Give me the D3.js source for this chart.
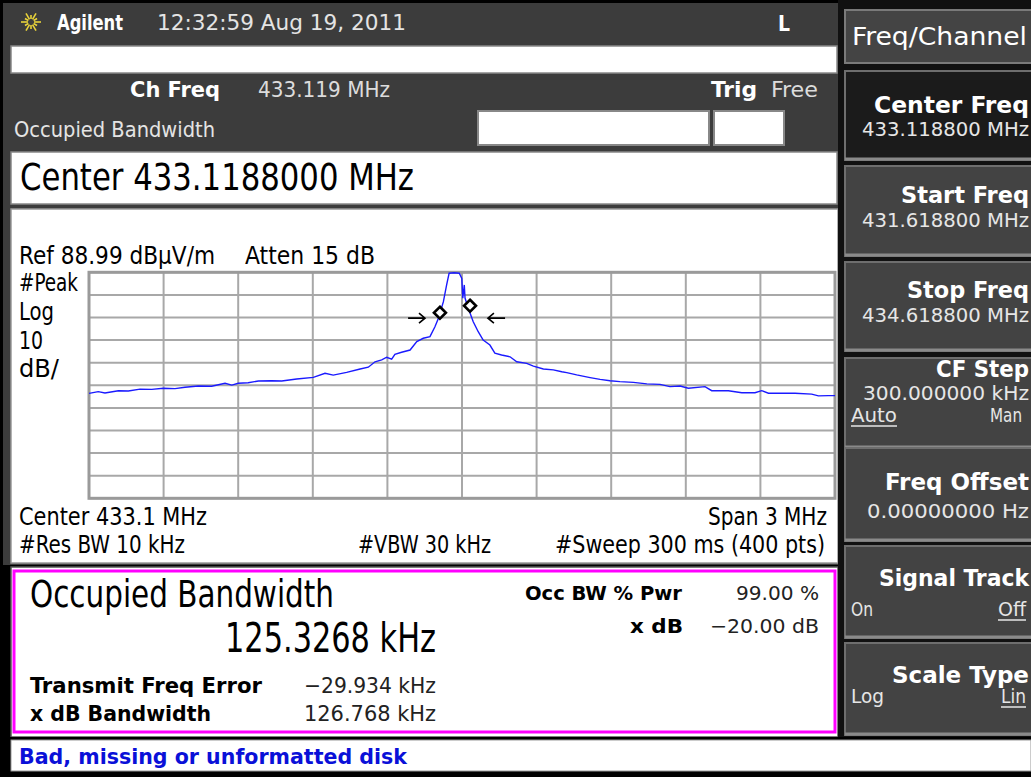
<!DOCTYPE html>
<html><head><meta charset="utf-8">
<script src="https://cdn.jsdelivr.net/npm/d3@7"></script>
<style>
html,body{margin:0;padding:0;background:#000;}
svg{display:block;}
text{font-family:'DejaVu Sans Condensed','DejaVu Sans','Liberation Sans Narrow',sans-serif;font-stretch:condensed;}
</style></head>
<body>
<svg id="c" width="1031" height="777"></svg>
<script>
// ---- data (frequency in MHz, level in dBµV/m) ----
const traceFreqMHz = [431.619,431.656,431.683,431.737,431.777,431.824,431.871,431.918,431.965,432.005,
  432.058,432.112,432.166,432.193,432.219,432.259,432.300,432.354,432.394,432.454,
  432.521,432.568,432.601,432.655,432.709,432.742,432.769,432.796,432.816,432.836,
  432.849,432.876,432.910,432.937,432.963,432.990,433.010,433.024,433.044,433.057,
  433.067,433.087,433.108,433.118,433.122,433.128,433.131,433.144,433.164,433.184,
  433.204,433.231,433.251,433.278,433.312,433.339,433.379,433.406,433.446,433.486,
  433.520,433.540,433.580,433.634,433.674,433.714,433.754,433.808,433.862,433.915,
  433.955,433.996,434.029,434.096,434.123,434.190,434.244,434.297,434.324,434.351,
  434.418,434.458,434.525,434.552,434.592,434.619];
const traceLevel = [35.4,36.2,35.6,36.6,36.5,37.3,37.2,37.7,37.5,38.1,
  38.7,38.6,39.9,39.1,39.9,40.1,40.9,41.0,40.9,41.8,
  42.5,44.3,43.5,44.7,46.2,47.0,49.4,50.2,51.4,50.6,
  52.7,53.6,54.6,58.3,59.8,60.5,64.9,68.6,76.0,83.4,
  88.6,88.8,88.6,86.3,77.5,83.4,77.6,73.1,67.1,62.7,
  59.0,56.8,53.2,52.4,51.6,49.4,48.7,47.5,46.2,45.8,
  45.0,44.6,43.6,42.4,41.6,41.0,40.6,40.3,39.6,39.4,
  38.4,38.7,37.7,38.4,36.6,36.6,35.7,35.7,36.6,35.5,
  35.5,35.5,35.1,34.3,34.4,34.4];
const markerFreqMHz = [433.030, 433.151];
const markerLevel = [71.1, 74.2];
const arrowLeftMHz = [432.902, 432.970];
const arrowRightMHz = [433.292, 433.223];
const xdbLevel = 68.7;
const startFreq = 431.6188, stopFreq = 434.6188;
const refLevel = 88.99, dbPerDiv = 10, nDiv = 10;

const softkeys = [
  {title:"Center Freq", value:"433.118800 MHz", sel:true},
  {title:"Start Freq", value:"431.618800 MHz"},
  {title:"Stop Freq", value:"434.618800 MHz"},
  {title:"CF Step", value:"300.000000 kHz", left:"Auto", right:"Man", under:"left"},
  {title:"Freq Offset", value:"0.00000000  Hz"},
  {title:"Signal Track", left:"On", right:"Off", under:"right"},
  {title:"Scale Type", left:"Log", right:"Lin", under:"right"}
];

// ---- drawing ----
const svg = d3.select('#c');
function T(s, x, y, size, o={}) {
  const t = svg.append('text').attr('x',x).attr('y',y).attr('font-size',size)
    .attr('font-weight', o.bold?'bold':'normal').attr('fill', o.fill||'#000').text(s);
  if (o.w) t.attr('textLength',o.w).attr('lengthAdjust','spacingAndGlyphs');
  return t;
}
function R(x,y,w,h,fill,stroke,sw){
  return svg.append('rect').attr('x',x).attr('y',y).attr('width',w).attr('height',h)
    .attr('fill',fill).attr('stroke',stroke||'none').attr('stroke-width',sw||0);
}
// background
R(0,0,1031,777,'#000');
R(3,3,835,42,'#3c3c3c');
R(3,45,835,520,'#3c3c3c');
// top bar
const lg = svg.append('g').attr('transform','translate(31,22)');
for (let i=0;i<12;i++){const a=i*Math.PI/6;
  lg.append('line').attr('x1',Math.cos(a)*3).attr('y1',Math.sin(a)*3).attr('x2',Math.cos(a)*(i%2?7:10)).attr('y2',Math.sin(a)*(i%2?7:10))
    .attr('stroke','#e8d23a').attr('stroke-width',1.6);}
T('Agilent',57,30,21,{bold:true,fill:'#fff',w:66});
T('12:32:59  Aug 19, 2011',157,30,21,{fill:'#e4e4e4',w:249});
T('L',778,31,22,{bold:true,fill:'#fff',w:12});
R(11,46,826,27,'#fff','#888',1.5);
T('Ch Freq',130,97,21,{bold:true,fill:'#fff',w:90});
T('433.119 MHz',258,97,21,{fill:'#dcdcdc',w:132});
T('Trig',711,97,21,{bold:true,fill:'#fff',w:46});
T('Free',771,97,21,{fill:'#dcdcdc',w:47});
T('Occupied Bandwidth',14,137,21,{fill:'#e4e4e4',w:201});
R(478,111,231,34,'#fff','#888',2);
R(714,111,70,34,'#fff','#888',2);
R(11,152,826,52,'#fff','#888',1.5);
T('Center 433.1188000 MHz',20,190,37,{w:394});

// graph panel
R(11,209,827,354,'#fff','#999',1.5);
const x = d3.scaleLinear().domain([startFreq,stopFreq]).range([89,835]);
const y = d3.scaleLinear().domain([refLevel-dbPerDiv*nDiv, refLevel]).range([498.3,272.3]);
const gridF = d3.range(nDiv+1).map(i=>startFreq+i*(stopFreq-startFreq)/nDiv);
const gridL = d3.range(nDiv+1).map(i=>refLevel-i*dbPerDiv);
const gg = svg.append('g');
gg.selectAll('.v').data(gridF).join('line').attr('x1',d=>x(d)).attr('x2',d=>x(d)).attr('y1',y.range()[1]).attr('y2',y.range()[0])
  .attr('stroke','#a8a8a8').attr('stroke-width',2);
gg.selectAll('.h').data(gridL).join('line').attr('y1',d=>y(d)).attr('y2',d=>y(d)).attr('x1',x.range()[0]).attr('x2',x.range()[1])
  .attr('stroke','#a8a8a8').attr('stroke-width',2);
gg.append('rect').attr('x',x.range()[0]).attr('y',y.range()[1]).attr('width',x.range()[1]-x.range()[0]).attr('height',y.range()[0]-y.range()[1])
  .attr('fill','none').attr('stroke','#9a9a9a').attr('stroke-width',3);
svg.append('clipPath').attr('id','clp').append('rect').attr('x',88).attr('y',271).attr('width',749).attr('height',229);
const line = d3.line().x(d=>x(d[0])).y(d=>y(d[1]));
svg.append('path').datum(traceFreqMHz.map((f,i)=>[f,traceLevel[i]])).attr('d',line)
  .attr('fill','none').attr('stroke','#1a1aff').attr('stroke-width',1.4).attr('clip-path','url(#clp)');
// markers
markerFreqMHz.forEach((f,i)=>{
  const cx=x(f), cy=y(markerLevel[i]), r=6;
  svg.append('path').attr('d',`M${cx},${cy-r}L${cx+r},${cy}L${cx},${cy+r}L${cx-r},${cy}Z`)
    .attr('fill','#fff').attr('stroke','#000').attr('stroke-width',2.6);
});
function arrow(f0,f1){
  const ay=y(xdbLevel), x0=x(f0), x1=x(f1), dir=Math.sign(x1-x0);
  svg.append('path').attr('d',`M${x0},${ay}L${x1},${ay}M${x1-dir*6},${ay-5}L${x1},${ay}L${x1-dir*6},${ay+5}`)
    .attr('fill','none').attr('stroke','#000').attr('stroke-width',1.6);
}
arrow(arrowLeftMHz[0],arrowLeftMHz[1]);
arrow(arrowRightMHz[0],arrowRightMHz[1]);
const gs = 24;
T('Ref 88.99 dB\u03bcV/m',19,264,gs,{w:196});
T('Atten 15 dB',245,264,gs,{w:130});
T('#Peak',19,291,gs,{w:59});
T('Log',19,320,gs,{w:35});
T('10',19,349,gs,{w:24});
T('dB/',19,377,gs,{w:40});
T('Center 433.1 MHz',19,525,gs,{w:188});
T('Span 3 MHz',708,525,gs,{w:119});
T('#Res BW 10 kHz',19,553,gs,{w:166});
T('#VBW 30 kHz',358,553,gs,{w:133});
T('#Sweep 300 ms (400 pts)',555,553,gs,{w:270});

// results box
R(11,567,827,170,'#fff','#555',1.5);
R(14,571,821,161,'#fff','#ff00ff',3);
T('Occupied Bandwidth',30,607,37,{w:304});
T('125.3268 kHz',225,652,41,{w:211});
T('Occ BW % Pwr',525,600,20,{bold:true,w:157});
T('99.00 %',736,600,20,{w:83,fill:'#222'});
T('x dB',630,633,20,{bold:true,w:53});
T('\u221220.00 dB',710,633,20,{w:109,fill:'#222'});
T('Transmit Freq Error',30,693,21,{bold:true,w:232});
T('\u221229.934 kHz',304,693,21,{w:132,fill:'#222'});
T('x dB Bandwidth',30,721,21,{bold:true,w:181});
T('126.768 kHz',304,721,21,{w:132,fill:'#222'});

// status bar
R(0,737,1031,40,'#000');
R(11,740,1020,31,'#fff','#999',1);
T('Bad, missing or unformatted disk',19,764,22,{bold:true,fill:'#0a10d8',w:388});

// softkey panel
R(838,0,193,737,'#111');
R(845,10,190,53,'#444','#7a7a7a',2);
T('Freq/Channel',852,45,25,{fill:'#fff',w:175});
const keyTops=[71,166,262,358,448,546,643], keyH=[89,90,89,90,93,92,92];
softkeys.forEach((k,i)=>{
  const t=keyTops[i];
  R(845,t,190,keyH[i],k.sel?'#1b1b1b':'#434343','#6e6e6e',2);
  svg.append('line').attr('x1',845).attr('x2',1031).attr('y1',t+keyH[i]-1).attr('y2',t+keyH[i]-1).attr('stroke','#8a8a8a').attr('stroke-width',3);
});
const kt = [
  ['Center Freq',874,113,'433.118800 MHz',862,136],
  ['Start Freq',901,203,'431.618800 MHz',862,227],
  ['Stop Freq',907,298,'434.618800 MHz',862,322],
  ['CF Step',936,377,'300.000000 kHz',863,400],
  ['Freq Offset',885,490,'0.00000000  Hz',867,518],
  ['Signal Track',879,586,null],
  ['Scale Type',892,683,null]
];
kt.forEach((r,i)=>{
  T(r[0],r[1],r[2],23,{bold:true,fill:'#fff',w:1029-r[1]});
  if(r[3]) T(r[3],r[4],r[5],19,{fill:'#e6e6e6',w:1029-r[4]});
});
function lr(l,r,yy,under,wl,wr,xr){
  T(l,851,yy,20,{fill:'#e6e6e6',w:wl});
  T(r,xr,yy,19,{fill:'#e6e6e6',w:wr});
  const ux = under==='left'?851:xr, uw = under==='left'?wl:wr;
  svg.append('line').attr('x1',ux).attr('x2',ux+uw).attr('y1',yy+4).attr('y2',yy+4).attr('stroke','#e6e6e6').attr('stroke-width',1.5);
}
lr('Auto','Man',422,'left',46,32,990);
lr('On','Off',616,'right',22,28,998);
lr('Log','Lin',703,'right',33,25,1001);
</script>
</body></html>
